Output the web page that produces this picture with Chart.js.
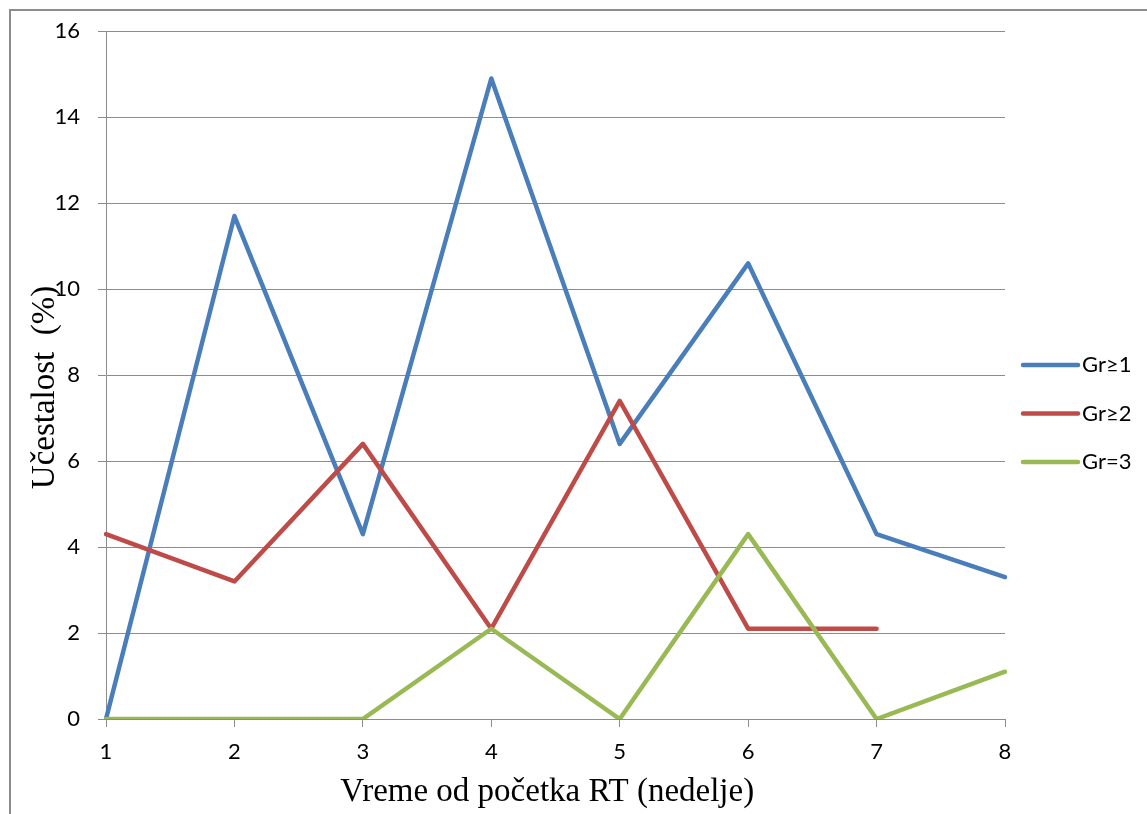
<!DOCTYPE html>
<html>
<head>
<meta charset="utf-8">
<script src="https://cdn.jsdelivr.net/npm/chart.js@4/dist/chart.umd.min.js"></script>
<style>
  html, body { margin: 0; padding: 0; background: #fff; overflow: hidden; }
  #frame { position: absolute; left: 9px; top: 9px; width: 1300px; height: 1000px;
           border-left: 2px solid #8c8c8c; border-top: 2px solid #8c8c8c; }
  #wrap { position: absolute; left: 0; top: 0; width: 1147px; height: 814px; }
</style>
</head>
<body>
<div id="frame"></div>
<div id="wrap"><canvas id="c" width="1147" height="814"></canvas></div>
<script>
// ---- data ----
const weeks = ['1', '2', '3', '4', '5', '6', '7', '8'];
const seriesNames = ['Gr\u22651', 'Gr\u22652', 'Gr=3'];
const grade1 = [0, 11.7, 4.3, 14.9, 6.4, 10.6, 4.3, 3.3];
const grade2 = [4.3, 3.2, 6.4, 2.1, 7.4, 2.1, 2.1, null];
const grade3 = [0, 0, 0, 2.1, 0, 4.3, 0, 1.1];
const yTicks = [0, 2, 4, 6, 8, 10, 12, 14, 16];
const xTitle = 'Vreme od po\u010detka RT (nedelje)  ';
const yTitle = 'U\u010destalost  (%)   ';

const colors = ['#4a7ebb', '#be4b48', '#98b954'];
const gridColor = '#8c8c8c';

const legendPlugin = {
  id: 'sideLegend',
  afterDraw(chart, args, opts) {
    const ctx = chart.ctx;
    ctx.save();
    chart.data.datasets.forEach((ds, i) => {
      const y = opts.y0 + i * opts.step;
      ctx.strokeStyle = ds.borderColor;
      ctx.lineWidth = ds.borderWidth;
      ctx.lineCap = 'round';
      ctx.beginPath();
      ctx.moveTo(opts.x0, y);
      ctx.lineTo(opts.x1, y);
      ctx.stroke();
      ctx.fillStyle = '#000';
      ctx.font = opts.font;
      ctx.textBaseline = 'middle';
      ctx.textAlign = 'left';
      ctx.fillText(ds.label, opts.tx, y);
    });
    ctx.restore();
  }
};

const tickFont = { family: 'Lato', size: 22 };

new Chart(document.getElementById('c'), {
  type: 'line',
  data: {
    labels: weeks,
    datasets: [
      { label: seriesNames[0], data: grade1, borderColor: colors[0], order: 3 },
      { label: seriesNames[1], data: grade2, borderColor: colors[1], order: 2 },
      { label: seriesNames[2], data: grade3, borderColor: colors[2], order: 1 }
    ].map(d => Object.assign(d, {
      borderWidth: 4.5, pointRadius: 0, tension: 0, fill: false,
      borderCapStyle: 'round', borderJoinStyle: 'round', backgroundColor: d.borderColor
    }))
  },
  options: {
    responsive: false,
    animation: false,
    layout: { padding: { left: 0, top: 28, right: 142, bottom: 0 } },
    plugins: {
      legend: { display: false },
      tooltip: { enabled: false },
      sideLegend: { x0: 1023, x1: 1078, tx: 1082, y0: 365, step: 48.5, font: '22px Lato' }
    },
    scales: {
      x: {
        type: 'category',
        offset: false,
        grid: { display: true, drawOnChartArea: false, drawTicks: true, tickLength: 8, color: gridColor },
        border: { display: true, color: gridColor, width: 1 },
        ticks: { font: tickFont, color: '#000', padding: 12, maxRotation: 0, autoSkip: false },
        title: { display: true, text: xTitle, color: '#000',
                 font: { family: 'Liberation Serif', size: 33 }, padding: { top: 0, bottom: 2 } },
        afterFit(scale) { scale.height = 95; }
      },
      y: {
        min: 0, max: 16,
        afterBuildTicks(scale) { scale.ticks = yTicks.map(v => ({ value: v })); },
        grid: { color: gridColor, lineWidth: 1, tickLength: 8, drawTicks: true },
        border: { display: true, color: gridColor, width: 1 },
        ticks: { font: tickFont, color: '#000', padding: 18 },
        title: { display: true, text: yTitle, color: '#000',
                 font: { family: 'Liberation Serif', size: 33 }, padding: { top: 26, bottom: 0 } },
        afterFit(scale) { scale.width = 106; }
      }
    }
  },
  plugins: [legendPlugin]
});
</script>
</body>
</html>
